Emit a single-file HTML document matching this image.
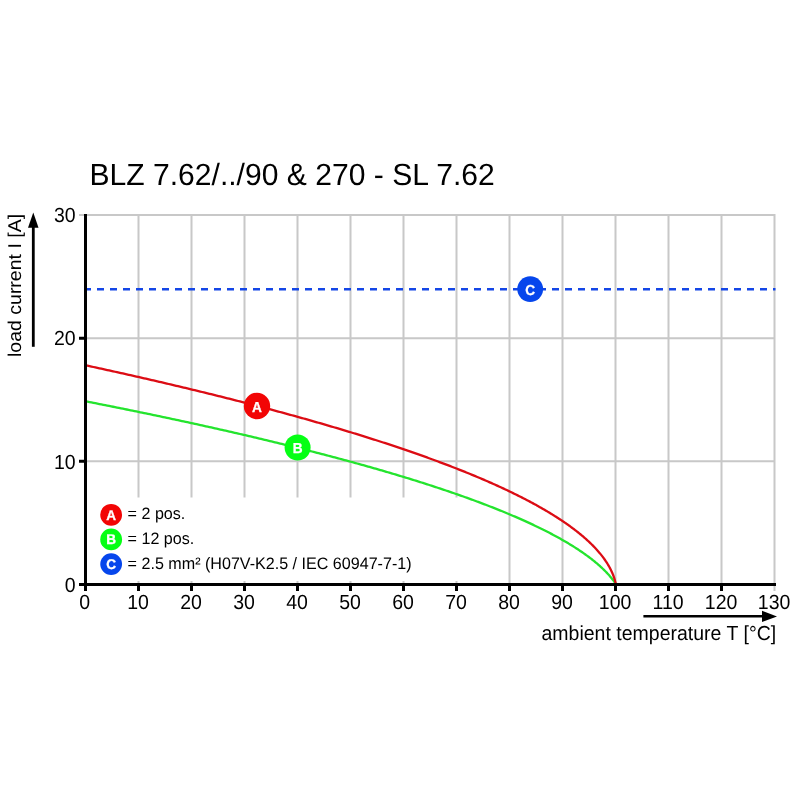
<!DOCTYPE html>
<html><head><meta charset="utf-8"><title>Derating curve BLZ 7.62</title><style>html,body{margin:0;padding:0;background:#fff;}svg{display:block;will-change:transform;}text{text-rendering:geometricPrecision;}</style></head><body>
<svg width="800" height="800" viewBox="0 0 800 800">
<rect width="800" height="800" fill="#fff"/>
<text transform="translate(89.40,185.10) scale(1.0000,1.0170)" font-family="Liberation Sans, Arial, Helvetica, sans-serif" font-size="30.1" fill="#000">BLZ 7.62/../90 &amp; 270 - SL 7.62</text>
<path d="M138.50,214 V584.5 M191.50,214 V584.5 M244.50,214 V584.5 M297.50,214 V584.5 M350.50,214 V584.5 M403.50,214 V584.5 M456.50,214 V584.5 M509.50,214 V584.5 M562.50,214 V584.5 M615.50,214 V584.5 M668.50,214 V584.5 M721.50,214 V584.5 M774.50,214 V584.5 M85.5,461.33 H775.5 M85.5,338.16 H775.5 M85.5,214.99 H775.5" stroke="#c8c8c8" stroke-width="2" fill="none"/>
<path d="M79,214.99 H86 M774.50,584 V591" stroke="#c8c8c8" stroke-width="2" fill="none"/>
<rect x="88" y="497.5" width="380" height="83.5" fill="#fff"/>
<path d="M84,289.19 H775.5" stroke="#1446e6" stroke-width="2.4" stroke-dasharray="7 6" fill="none"/>
<path d="M85.50,401.28 L87.49,401.67 L89.48,402.06 L91.46,402.45 L93.44,402.84 L95.42,403.23 L97.40,403.62 L99.37,404.01 L101.34,404.40 L103.31,404.79 L105.28,405.18 L107.24,405.57 L109.20,405.97 L111.16,406.36 L113.12,406.75 L115.07,407.14 L117.02,407.53 L118.97,407.93 L120.92,408.32 L122.86,408.71 L124.80,409.11 L126.74,409.50 L128.68,409.89 L130.61,410.29 L132.54,410.68 L134.47,411.08 L136.40,411.47 L138.32,411.87 L140.24,412.26 L142.16,412.66 L144.07,413.06 L145.99,413.45 L147.90,413.85 L149.80,414.24 L151.71,414.64 L153.61,415.04 L155.51,415.44 L157.41,415.83 L159.30,416.23 L161.20,416.63 L163.09,417.03 L164.97,417.43 L166.86,417.83 L168.74,418.23 L170.62,418.62 L172.49,419.02 L174.37,419.42 L176.24,419.82 L178.11,420.22 L179.97,420.63 L181.84,421.03 L183.70,421.43 L185.55,421.83 L187.41,422.23 L189.26,422.63 L191.11,423.04 L192.96,423.44 L194.80,423.84 L196.64,424.24 L198.48,424.65 L200.32,425.05 L202.15,425.45 L203.98,425.86 L205.81,426.26 L207.64,426.67 L209.46,427.07 L211.28,427.48 L213.10,427.88 L214.91,428.29 L216.72,428.70 L218.53,429.10 L220.34,429.51 L222.14,429.92 L223.94,430.32 L225.74,430.73 L227.54,431.14 L229.33,431.55 L231.12,431.96 L232.91,432.36 L234.69,432.77 L236.47,433.18 L238.25,433.59 L240.03,434.00 L241.80,434.41 L243.57,434.82 L245.34,435.23 L247.10,435.64 L248.86,436.06 L250.62,436.47 L252.38,436.88 L254.13,437.29 L255.88,437.70 L257.63,438.12 L259.38,438.53 L261.12,438.94 L262.86,439.36 L264.60,439.77 L266.33,440.19 L268.06,440.60 L269.79,441.02 L271.51,441.43 L273.23,441.85 L274.95,442.26 L276.67,442.68 L278.38,443.09 L280.09,443.51 L281.80,443.93 L283.51,444.35 L285.21,444.76 L286.91,445.18 L288.60,445.60 L290.30,446.02 L291.99,446.44 L293.67,446.86 L295.36,447.28 L297.04,447.70 L298.72,448.12 L300.39,448.54 L302.07,448.96 L303.74,449.38 L305.40,449.80 L307.07,450.23 L308.73,450.65 L310.39,451.07 L312.04,451.49 L313.69,451.92 L315.34,452.34 L316.99,452.77 L318.63,453.19 L320.27,453.62 L321.91,454.04 L323.54,454.47 L325.17,454.89 L326.80,455.32 L328.42,455.74 L330.04,456.17 L331.66,456.60 L333.28,457.03 L334.89,457.46 L336.50,457.88 L338.11,458.31 L339.71,458.74 L341.31,459.17 L342.90,459.60 L344.50,460.03 L346.09,460.46 L347.68,460.89 L349.26,461.32 L350.84,461.76 L352.42,462.19 L354.00,462.62 L355.57,463.05 L357.14,463.49 L358.70,463.92 L360.26,464.36 L361.82,464.79 L363.38,465.22 L364.93,465.66 L366.48,466.10 L368.03,466.53 L369.57,466.97 L371.11,467.40 L372.65,467.84 L374.18,468.28 L375.71,468.72 L377.24,469.16 L378.76,469.60 L380.28,470.03 L381.80,470.47 L383.32,470.91 L384.83,471.35 L386.33,471.80 L387.84,472.24 L389.34,472.68 L390.84,473.12 L392.33,473.56 L393.82,474.01 L395.31,474.45 L396.79,474.89 L398.28,475.34 L399.75,475.78 L401.23,476.23 L402.70,476.67 L404.17,477.12 L405.63,477.57 L407.09,478.01 L408.55,478.46 L410.00,478.91 L411.45,479.36 L412.90,479.81 L414.34,480.26 L415.78,480.71 L417.22,481.16 L418.65,481.61 L420.08,482.06 L421.51,482.51 L422.93,482.96 L424.35,483.41 L425.77,483.87 L427.18,484.32 L428.59,484.77 L430.00,485.23 L431.40,485.68 L432.80,486.14 L434.19,486.60 L435.58,487.05 L436.97,487.51 L438.36,487.97 L439.74,488.42 L441.11,488.88 L442.49,489.34 L443.86,489.80 L445.22,490.26 L446.59,490.72 L447.95,491.18 L449.30,491.64 L450.65,492.11 L452.00,492.57 L453.34,493.03 L454.69,493.49 L456.02,493.96 L457.36,494.42 L458.69,494.89 L460.01,495.35 L461.33,495.82 L462.65,496.29 L463.97,496.75 L465.28,497.22 L466.58,497.69 L467.89,498.16 L469.19,498.63 L470.48,499.10 L471.77,499.57 L473.06,500.04 L474.35,500.51 L475.63,500.99 L476.90,501.46 L478.17,501.93 L479.44,502.41 L480.71,502.88 L481.97,503.36 L483.23,503.83 L484.48,504.31 L485.73,504.79 L486.97,505.26 L488.21,505.74 L489.45,506.22 L490.68,506.70 L491.91,507.18 L493.14,507.66 L494.36,508.14 L495.57,508.63 L496.79,509.11 L498.00,509.59 L499.20,510.08 L500.40,510.56 L501.60,511.05 L502.79,511.53 L503.98,512.02 L505.16,512.51 L506.34,512.99 L507.51,513.48 L508.69,513.97 L509.85,514.46 L511.02,514.95 L512.17,515.44 L513.33,515.94 L514.48,516.43 L515.62,516.92 L516.76,517.42 L517.90,517.91 L519.03,518.41 L520.16,518.90 L521.29,519.40 L522.40,519.90 L523.52,520.40 L524.63,520.90 L525.74,521.40 L526.84,521.90 L527.93,522.40 L529.03,522.90 L530.11,523.40 L531.20,523.91 L532.28,524.41 L533.35,524.91 L534.42,525.42 L535.48,525.93 L536.54,526.43 L537.60,526.94 L538.65,527.45 L539.70,527.96 L540.74,528.47 L541.78,528.98 L542.81,529.50 L543.83,530.01 L544.86,530.52 L545.87,531.04 L546.89,531.55 L547.89,532.07 L548.90,532.58 L549.89,533.10 L550.89,533.62 L551.87,534.14 L552.86,534.66 L553.83,535.18 L554.81,535.70 L555.77,536.23 L556.74,536.75 L557.69,537.27 L558.64,537.80 L559.59,538.33 L560.53,538.85 L561.47,539.38 L562.40,539.91 L563.33,540.44 L564.25,540.97 L565.16,541.50 L566.07,542.03 L566.97,542.57 L567.87,543.10 L568.76,543.64 L569.65,544.17 L570.53,544.71 L571.41,545.25 L572.28,545.78 L573.14,546.32 L574.00,546.86 L574.86,547.40 L575.70,547.95 L576.55,548.49 L577.38,549.03 L578.21,549.58 L579.03,550.12 L579.85,550.67 L580.66,551.22 L581.47,551.76 L582.27,552.31 L583.06,552.86 L583.85,553.41 L584.63,553.96 L585.40,554.51 L586.17,555.07 L586.93,555.62 L587.69,556.17 L588.43,556.73 L589.17,557.28 L589.91,557.84 L590.64,558.40 L591.36,558.95 L592.07,559.51 L592.78,560.07 L593.48,560.63 L594.17,561.19 L594.86,561.75 L595.54,562.31 L596.21,562.87 L596.87,563.43 L597.53,563.99 L598.18,564.55 L598.82,565.11 L599.45,565.67 L600.08,566.23 L600.69,566.79 L601.30,567.35 L601.91,567.91 L602.50,568.47 L603.08,569.03 L603.66,569.58 L604.23,570.14 L604.78,570.70 L605.33,571.25 L605.87,571.80 L606.41,572.35 L606.93,572.90 L607.44,573.45 L607.94,573.99 L608.43,574.53 L608.92,575.07 L609.39,575.60 L609.85,576.13 L610.30,576.65 L610.74,577.17 L611.17,577.69 L611.59,578.19 L611.99,578.69 L612.38,579.19 L612.76,579.67 L613.13,580.14 L613.48,580.60 L613.81,581.05 L614.14,581.49 L614.44,581.91 L614.73,582.31 L615.01,582.70 L615.26,583.06 L615.49,583.40 L615.70,583.71 L615.89,583.98 L616.05,584.22 L616.17,584.40 L616.24,584.50" stroke="#24e42e" stroke-width="2.3" fill="none" stroke-linejoin="round"/>
<path d="M85.50,365.28 L87.49,365.71 L89.47,366.14 L91.46,366.57 L93.44,367.00 L95.41,367.43 L97.39,367.87 L99.36,368.30 L101.33,368.73 L103.30,369.16 L105.27,369.59 L107.23,370.02 L109.19,370.46 L111.15,370.89 L113.10,371.32 L115.05,371.75 L117.00,372.19 L118.95,372.62 L120.90,373.06 L122.84,373.49 L124.78,373.92 L126.72,374.36 L128.65,374.79 L130.58,375.23 L132.51,375.67 L134.44,376.10 L136.36,376.54 L138.29,376.97 L140.21,377.41 L142.12,377.85 L144.04,378.29 L145.95,378.72 L147.86,379.16 L149.76,379.60 L151.67,380.04 L153.57,380.48 L155.47,380.92 L157.36,381.36 L159.26,381.80 L161.15,382.24 L163.04,382.68 L164.92,383.12 L166.80,383.56 L168.69,384.00 L170.56,384.44 L172.44,384.88 L174.31,385.33 L176.18,385.77 L178.05,386.21 L179.91,386.65 L181.77,387.10 L183.63,387.54 L185.49,387.99 L187.34,388.43 L189.19,388.87 L191.04,389.32 L192.89,389.76 L194.73,390.21 L196.57,390.66 L198.41,391.10 L200.25,391.55 L202.08,392.00 L203.91,392.44 L205.73,392.89 L207.56,393.34 L209.38,393.79 L211.20,394.24 L213.02,394.68 L214.83,395.13 L216.64,395.58 L218.45,396.03 L220.25,396.48 L222.06,396.93 L223.86,397.38 L225.65,397.84 L227.45,398.29 L229.24,398.74 L231.03,399.19 L232.81,399.64 L234.60,400.10 L236.38,400.55 L238.15,401.00 L239.93,401.46 L241.70,401.91 L243.47,402.37 L245.24,402.82 L247.00,403.28 L248.76,403.73 L250.52,404.19 L252.27,404.64 L254.03,405.10 L255.78,405.56 L257.52,406.02 L259.27,406.47 L261.01,406.93 L262.75,407.39 L264.48,407.85 L266.21,408.31 L267.94,408.77 L269.67,409.23 L271.39,409.69 L273.12,410.15 L274.83,410.61 L276.55,411.07 L278.26,411.54 L279.97,412.00 L281.68,412.46 L283.38,412.92 L285.08,413.39 L286.78,413.85 L288.48,414.32 L290.17,414.78 L291.86,415.25 L293.54,415.71 L295.23,416.18 L296.91,416.64 L298.58,417.11 L300.26,417.58 L301.93,418.04 L303.60,418.51 L305.26,418.98 L306.93,419.45 L308.59,419.92 L310.24,420.39 L311.90,420.86 L313.55,421.33 L315.19,421.80 L316.84,422.27 L318.48,422.74 L320.12,423.21 L321.76,423.69 L323.39,424.16 L325.02,424.63 L326.64,425.11 L328.27,425.58 L329.89,426.05 L331.51,426.53 L333.12,427.01 L334.73,427.48 L336.34,427.96 L337.94,428.43 L339.55,428.91 L341.15,429.39 L342.74,429.87 L344.33,430.35 L345.92,430.83 L347.51,431.31 L349.09,431.79 L350.67,432.27 L352.25,432.75 L353.82,433.23 L355.40,433.71 L356.96,434.19 L358.53,434.68 L360.09,435.16 L361.65,435.64 L363.20,436.13 L364.75,436.61 L366.30,437.10 L367.85,437.58 L369.39,438.07 L370.93,438.56 L372.47,439.04 L374.00,439.53 L375.53,440.02 L377.05,440.51 L378.58,441.00 L380.10,441.49 L381.61,441.98 L383.13,442.47 L384.64,442.96 L386.14,443.45 L387.65,443.94 L389.15,444.44 L390.64,444.93 L392.14,445.42 L393.63,445.92 L395.11,446.41 L396.60,446.91 L398.08,447.41 L399.55,447.90 L401.03,448.40 L402.50,448.90 L403.96,449.40 L405.43,449.89 L406.89,450.39 L408.34,450.89 L409.80,451.39 L411.25,451.90 L412.69,452.40 L414.14,452.90 L415.57,453.40 L417.01,453.91 L418.44,454.41 L419.87,454.92 L421.30,455.42 L422.72,455.93 L424.14,456.43 L425.55,456.94 L426.97,457.45 L428.37,457.96 L429.78,458.47 L431.18,458.98 L432.58,459.49 L433.97,460.00 L435.36,460.51 L436.75,461.02 L438.13,461.53 L439.51,462.05 L440.89,462.56 L442.26,463.08 L443.63,463.59 L445.00,464.11 L446.36,464.62 L447.71,465.14 L449.07,465.66 L450.42,466.18 L451.77,466.70 L453.11,467.22 L454.45,467.74 L455.79,468.26 L457.12,468.78 L458.45,469.31 L459.77,469.83 L461.09,470.35 L462.41,470.88 L463.73,471.40 L465.04,471.93 L466.34,472.46 L467.64,472.99 L468.94,473.52 L470.24,474.04 L471.53,474.58 L472.82,475.11 L474.10,475.64 L475.38,476.17 L476.65,476.70 L477.92,477.24 L479.19,477.77 L480.46,478.31 L481.72,478.85 L482.97,479.38 L484.22,479.92 L485.47,480.46 L486.72,481.00 L487.96,481.54 L489.19,482.08 L490.42,482.63 L491.65,483.17 L492.88,483.71 L494.10,484.26 L495.31,484.81 L496.53,485.35 L497.73,485.90 L498.94,486.45 L500.14,487.00 L501.33,487.55 L502.52,488.10 L503.71,488.65 L504.89,489.21 L506.07,489.76 L507.25,490.32 L508.42,490.87 L509.58,491.43 L510.74,491.99 L511.90,492.55 L513.06,493.11 L514.20,493.67 L515.35,494.23 L516.49,494.79 L517.63,495.36 L518.76,495.92 L519.89,496.49 L521.01,497.06 L522.13,497.62 L523.24,498.19 L524.35,498.77 L525.46,499.34 L526.56,499.91 L527.65,500.48 L528.74,501.06 L529.83,501.64 L530.91,502.21 L531.99,502.79 L533.07,503.37 L534.13,503.95 L535.20,504.53 L536.26,505.12 L537.31,505.70 L538.36,506.29 L539.41,506.88 L540.45,507.47 L541.48,508.06 L542.52,508.65 L543.54,509.24 L544.56,509.83 L545.58,510.43 L546.59,511.02 L547.60,511.62 L548.60,512.22 L549.60,512.82 L550.59,513.42 L551.58,514.03 L552.56,514.63 L553.54,515.24 L554.51,515.85 L555.47,516.46 L556.44,517.07 L557.39,517.68 L558.34,518.30 L559.29,518.91 L560.23,519.53 L561.17,520.15 L562.10,520.77 L563.02,521.39 L563.94,522.02 L564.86,522.64 L565.76,523.27 L566.67,523.90 L567.57,524.53 L568.46,525.16 L569.34,525.80 L570.23,526.44 L571.10,527.07 L571.97,527.72 L572.83,528.36 L573.69,529.00 L574.55,529.65 L575.39,530.30 L576.23,530.95 L577.07,531.60 L577.90,532.26 L578.72,532.91 L579.54,533.57 L580.35,534.24 L581.15,534.90 L581.95,535.57 L582.74,536.24 L583.53,536.91 L584.31,537.58 L585.08,538.26 L585.85,538.94 L586.61,539.62 L587.37,540.30 L588.11,540.99 L588.85,541.68 L589.59,542.37 L590.32,543.07 L591.04,543.76 L591.75,544.47 L592.46,545.17 L593.16,545.88 L593.85,546.59 L594.53,547.30 L595.21,548.02 L595.88,548.74 L596.55,549.46 L597.20,550.19 L597.85,550.92 L598.49,551.66 L599.12,552.40 L599.75,553.14 L600.37,553.88 L600.98,554.64 L601.58,555.39 L602.17,556.15 L602.75,556.91 L603.33,557.68 L603.90,558.45 L604.45,559.23 L605.00,560.01 L605.54,560.80 L606.07,561.59 L606.60,562.39 L607.11,563.19 L607.61,564.00 L608.10,564.81 L608.58,565.63 L609.06,566.46 L609.52,567.29 L609.97,568.13 L610.41,568.97 L610.83,569.82 L611.25,570.68 L611.65,571.54 L612.05,572.41 L612.42,573.29 L612.79,574.17 L613.14,575.05 L613.48,575.94 L613.80,576.83 L614.11,577.73 L614.40,578.62 L614.67,579.51 L614.92,580.39 L615.16,581.26 L615.37,582.09 L615.55,582.87 L615.71,583.58 L615.83,584.17 L615.90,584.50" stroke="#dc0c14" stroke-width="2.3" fill="none" stroke-linejoin="round"/>
<path d="M85.5,214 V591 M79,584.5 H776 M79,461.33 H85.5 M79,338.16 H85.5 M138.50,584.5 V591 M191.50,584.5 V591 M244.50,584.5 V591 M297.50,584.5 V591 M350.50,584.5 V591 M403.50,584.5 V591 M456.50,584.5 V591 M509.50,584.5 V591 M562.50,584.5 V591 M615.50,584.5 V591 M668.50,584.5 V591 M721.50,584.5 V591" stroke="#000" stroke-width="3" fill="none"/>
<text transform="translate(75.60,591.80) scale(1.0000,1.0500)" font-family="Liberation Sans, Arial, Helvetica, sans-serif" font-size="19.5" text-anchor="end" fill="#000">0</text>
<text transform="translate(75.60,468.63) scale(1.0000,1.0500)" font-family="Liberation Sans, Arial, Helvetica, sans-serif" font-size="19.5" text-anchor="end" fill="#000">10</text>
<text transform="translate(75.60,345.46) scale(1.0000,1.0500)" font-family="Liberation Sans, Arial, Helvetica, sans-serif" font-size="19.5" text-anchor="end" fill="#000">20</text>
<text transform="translate(75.60,222.29) scale(1.0000,1.0500)" font-family="Liberation Sans, Arial, Helvetica, sans-serif" font-size="19.5" text-anchor="end" fill="#000">30</text>
<text transform="translate(84.60,608.60) scale(1.0000,1.0500)" font-family="Liberation Sans, Arial, Helvetica, sans-serif" font-size="19.5" text-anchor="middle" fill="#000">0</text>
<text transform="translate(138.10,608.60) scale(1.0000,1.0500)" font-family="Liberation Sans, Arial, Helvetica, sans-serif" font-size="19.5" text-anchor="middle" fill="#000">10</text>
<text transform="translate(191.10,608.60) scale(1.0000,1.0500)" font-family="Liberation Sans, Arial, Helvetica, sans-serif" font-size="19.5" text-anchor="middle" fill="#000">20</text>
<text transform="translate(244.10,608.60) scale(1.0000,1.0500)" font-family="Liberation Sans, Arial, Helvetica, sans-serif" font-size="19.5" text-anchor="middle" fill="#000">30</text>
<text transform="translate(297.10,608.60) scale(1.0000,1.0500)" font-family="Liberation Sans, Arial, Helvetica, sans-serif" font-size="19.5" text-anchor="middle" fill="#000">40</text>
<text transform="translate(350.10,608.60) scale(1.0000,1.0500)" font-family="Liberation Sans, Arial, Helvetica, sans-serif" font-size="19.5" text-anchor="middle" fill="#000">50</text>
<text transform="translate(403.10,608.60) scale(1.0000,1.0500)" font-family="Liberation Sans, Arial, Helvetica, sans-serif" font-size="19.5" text-anchor="middle" fill="#000">60</text>
<text transform="translate(456.10,608.60) scale(1.0000,1.0500)" font-family="Liberation Sans, Arial, Helvetica, sans-serif" font-size="19.5" text-anchor="middle" fill="#000">70</text>
<text transform="translate(509.10,608.60) scale(1.0000,1.0500)" font-family="Liberation Sans, Arial, Helvetica, sans-serif" font-size="19.5" text-anchor="middle" fill="#000">80</text>
<text transform="translate(562.10,608.60) scale(1.0000,1.0500)" font-family="Liberation Sans, Arial, Helvetica, sans-serif" font-size="19.5" text-anchor="middle" fill="#000">90</text>
<text transform="translate(615.10,608.60) scale(1.0000,1.0500)" font-family="Liberation Sans, Arial, Helvetica, sans-serif" font-size="19.5" text-anchor="middle" fill="#000">100</text>
<text transform="translate(668.10,608.60) scale(1.0000,1.0500)" font-family="Liberation Sans, Arial, Helvetica, sans-serif" font-size="19.5" text-anchor="middle" fill="#000">110</text>
<text transform="translate(721.10,608.60) scale(1.0000,1.0500)" font-family="Liberation Sans, Arial, Helvetica, sans-serif" font-size="19.5" text-anchor="middle" fill="#000">120</text>
<text transform="translate(774.10,608.60) scale(1.0000,1.0500)" font-family="Liberation Sans, Arial, Helvetica, sans-serif" font-size="19.5" text-anchor="middle" fill="#000">130</text>
<path d="M643.4,616.3 H764" stroke="#000" stroke-width="2.5" fill="none"/>
<path d="M777,616.4 L762,610.8 L762,621.9 Z" fill="#000"/>
<text transform="translate(776.20,639.60) scale(1.0000,1.0400)" font-family="Liberation Sans, Arial, Helvetica, sans-serif" font-size="19.5" text-anchor="end" fill="#000">ambient temperature T [°C]</text>
<path d="M33.3,346.8 V226" stroke="#000" stroke-width="2.8" fill="none"/>
<path d="M33.3,212.5 L28,227.7 L38.5,227.7 Z" fill="#000"/>
<text transform="translate(21.40,357.00) rotate(-90) scale(1.0000,0.9500)" font-family="Liberation Sans, Arial, Helvetica, sans-serif" font-size="19.5" fill="#000">load current I [A]</text>
<circle cx="257" cy="406" r="13.2" fill="#f20505"/><text transform="translate(257.00,411.50) scale(0.9500,1.0000)" font-family="Liberation Sans, Arial, Helvetica, sans-serif" font-size="14.4" text-anchor="middle" font-weight="bold" fill="#fff" stroke="#fff" stroke-width="0.3">A</text>
<circle cx="297.6" cy="447.5" r="13" fill="#05ff14"/><text transform="translate(297.60,453.00) scale(0.9500,1.0000)" font-family="Liberation Sans, Arial, Helvetica, sans-serif" font-size="14.4" text-anchor="middle" font-weight="bold" fill="#fff" stroke="#fff" stroke-width="0.3">B</text>
<circle cx="530.2" cy="289.1" r="12.9" fill="#0646ec"/><text transform="translate(530.20,294.60) scale(0.9500,1.0000)" font-family="Liberation Sans, Arial, Helvetica, sans-serif" font-size="14.4" text-anchor="middle" font-weight="bold" fill="#fff" stroke="#fff" stroke-width="0.3">C</text>
<circle cx="111.15" cy="514.8" r="10.9" fill="#f20505"/><text transform="translate(111.15,519.50) scale(0.9700,1.0000)" font-family="Liberation Sans, Arial, Helvetica, sans-serif" font-size="14.0" text-anchor="middle" font-weight="bold" fill="#fff" stroke="#fff" stroke-width="0.3">A</text>
<circle cx="111.15" cy="539.4" r="10.9" fill="#05ff14"/><text transform="translate(111.15,544.10) scale(0.9700,1.0000)" font-family="Liberation Sans, Arial, Helvetica, sans-serif" font-size="14.0" text-anchor="middle" font-weight="bold" fill="#fff" stroke="#fff" stroke-width="0.3">B</text>
<circle cx="111.15" cy="564.1" r="10.9" fill="#0646ec"/><text transform="translate(111.15,568.80) scale(0.9700,1.0000)" font-family="Liberation Sans, Arial, Helvetica, sans-serif" font-size="14.0" text-anchor="middle" font-weight="bold" fill="#fff" stroke="#fff" stroke-width="0.3">C</text>
<text transform="translate(127.60,518.80) scale(1.0000,1.0300)" font-family="Liberation Sans, Arial, Helvetica, sans-serif" font-size="16.1" fill="#000">= 2 pos.</text>
<text transform="translate(127.60,544.00) scale(1.0000,1.0300)" font-family="Liberation Sans, Arial, Helvetica, sans-serif" font-size="16.1" fill="#000">= 12 pos.</text>
<text transform="translate(127.60,568.60) scale(1.0000,1.0300)" font-family="Liberation Sans, Arial, Helvetica, sans-serif" font-size="16.1" fill="#000">= 2.5 mm² (H07V-K2.5 / IEC 60947-7-1)</text>
</svg>
</body></html>
